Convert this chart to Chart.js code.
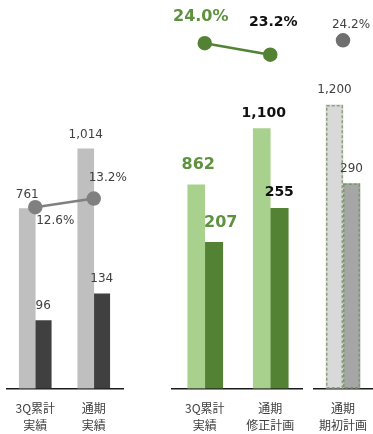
<!DOCTYPE html>
<html>
<head>
<meta charset="utf-8">
<script src="https://cdn.jsdelivr.net/npm/chart.js@4/dist/chart.umd.min.js"></script>
<style>
  html, body { margin: 0; padding: 0; background: #fff; overflow: hidden; }
  .panel { position: absolute; top: 0; }
</style>
</head>
<body>
<div class="panel" style="left:6px"><canvas id="actual" width="137" height="446"></canvas></div>
<div class="panel" style="left:160px"><canvas id="revised" width="143" height="446"></canvas></div>
<div class="panel" style="left:313px"><canvas id="initial" width="60" height="446"></canvas></div>
<script>
// 実績
var actualLabels = [['3Q累計', '実績'], ['通期', '実績']];
var actualSales = [761, 1014];
var actualProfit = [96, 134];
var actualMargin = [12.6, 13.2];

// 修正計画
var revisedLabels = [['3Q累計', '実績'], ['通期', '修正計画']];
var revisedSales = [862, 1100];
var revisedProfit = [207, 255];
var revisedMargin = [24.0, 23.2];

// 期初計画
var initialLabels = [['通期', '期初計画']];
var initialSales = [1200];
var initialProfit = [290];
var initialMargin = [24.2];

// shared axis ranges so the three panels line up
var SALES_MAX = 1644;
var PROFIT_MAX = 550;
var MARGIN_MAX = 27;

var NUM_FONT = 'DejaVu Sans';
var GREEN_TEXT = '#5e9140';
var plain = '12px ' + NUM_FONT;
var boldBig = 'bold 16px ' + NUM_FONT;
var boldSmall = 'bold 14px ' + NUM_FONT;

function fmtNum(v) { return v.toLocaleString('en-US'); }
function fmtPct(v) { return v.toFixed(1) + '%'; }
function pick(v, j, dflt) {
  if (Array.isArray(v)) return v[j];
  return v === undefined ? dflt : v;
}

// draws the value above each bar / next to each point
var valueLabels = {
  id: 'valueLabels',
  afterDatasetsDraw: function (chart) {
    var ctx = chart.ctx;
    chart.data.datasets.forEach(function (ds, i) {
      var lab = ds.valueLabel;
      if (!lab) return;
      chart.getDatasetMeta(i).data.forEach(function (el, j) {
        ctx.save();
        ctx.font = pick(lab.font, j, plain);
        ctx.fillStyle = pick(lab.color, j, '#404040');
        ctx.textAlign = 'center';
        ctx.textBaseline = 'middle';
        ctx.fillText(lab.format(ds.data[j]), el.x + pick(lab.dx, j, 0), el.y + pick(lab.dy, j, 0));
        ctx.restore();
      });
    });
  }
};

// dashed outline for the plan bars (bars have no borderDash option)
var dashedBars = {
  id: 'dashedBars',
  afterDatasetsDraw: function (chart) {
    var ctx = chart.ctx;
    chart.data.datasets.forEach(function (ds, i) {
      if (!ds.dashed) return;
      chart.getDatasetMeta(i).data.forEach(function (el) {
        var p = el.getProps(['x', 'y', 'base', 'width'], true);
        ctx.save();
        ctx.strokeStyle = ds.dashed;
        ctx.lineWidth = 1.5;
        ctx.setLineDash([3, 2]);
        ctx.strokeRect(p.x - p.width / 2 + 0.75, p.y + 0.75, p.width - 1.5, p.base - p.y - 1.5);
        ctx.restore();
      });
    });
  }
};

function makeChart(id, labels, datasets, pad) {
  return new Chart(document.getElementById(id), {
    type: 'bar',
    data: { labels: labels, datasets: datasets },
    plugins: [dashedBars, valueLabels],
    options: {
      responsive: false,
      animation: false,
      layout: { padding: { left: pad.left, right: pad.right, top: 0, bottom: 0 }, autoPadding: false },
      plugins: { legend: { display: false }, tooltip: { enabled: false } },
      scales: {
        x: {
          grid: { display: false, drawTicks: false },
          border: { display: true, color: '#1a1a1a', width: 1.5 },
          ticks: {
            padding: 12,
            maxRotation: 0,
            color: '#404040',
            font: { family: 'Noto Sans CJK JP', size: 12, lineHeight: 1.4 }
          },
          afterFit: function (scale) {
            scale.paddingLeft = 0;
            scale.paddingRight = 0;
          }
        },
        sales: { display: false, min: 0, max: SALES_MAX },
        profit: { display: false, min: 0, max: PROFIT_MAX },
        margin: { display: false, min: 0, max: MARGIN_MAX }
      }
    }
  });
}

makeChart('actual', actualLabels, [
  {
    type: 'line', data: actualMargin, yAxisID: 'margin', order: 0,
    borderColor: '#808080', backgroundColor: '#808080', borderWidth: 2.5,
    pointRadius: 6, pointHoverRadius: 6,
    valueLabel: { format: fmtPct, dx: [20, 14], dy: [14, -21] }
  },
  {
    data: actualSales, yAxisID: 'sales', order: 1, backgroundColor: '#bfbfbf', barThickness: 16,
    valueLabel: { format: fmtNum, dy: -14 }
  },
  {
    data: actualProfit, yAxisID: 'profit', order: 1, backgroundColor: '#404040', barThickness: 16,
    valueLabel: { format: fmtNum, dy: -15 }
  }
], { left: 0, right: 20 });

makeChart('revised', revisedLabels, [
  {
    type: 'line', data: revisedMargin, yAxisID: 'margin', order: 0,
    borderColor: '#548235', backgroundColor: '#548235', borderWidth: 2.5,
    pointRadius: 6, pointHoverRadius: 6,
    valueLabel: {
      format: fmtPct, font: [boldBig, boldSmall], color: [GREEN_TEXT, '#111'],
      dx: [-4, 3], dy: [-26, -32]
    }
  },
  {
    data: revisedSales, yAxisID: 'sales', order: 1, backgroundColor: '#a9d18e', barThickness: 17,
    valueLabel: {
      format: fmtNum, font: [boldBig, boldSmall], color: [GREEN_TEXT, '#111'],
      dx: [2, 2], dy: [-20, -15]
    }
  },
  {
    data: revisedProfit, yAxisID: 'profit', order: 1, backgroundColor: '#548235', barThickness: 18,
    valueLabel: {
      format: fmtNum, font: [boldBig, boldSmall], color: [GREEN_TEXT, '#111'],
      dx: [7, 0], dy: [-19, -16]
    }
  }
], { left: 12, right: 0 });

makeChart('initial', initialLabels, [
  {
    type: 'line', data: initialMargin, yAxisID: 'margin', order: 0,
    borderColor: '#6f6f6f', backgroundColor: '#6f6f6f', borderWidth: 2.5,
    pointRadius: 6, pointHoverRadius: 6,
    valueLabel: { format: fmtPct, dx: 8, dy: -15 }
  },
  {
    data: initialSales, yAxisID: 'sales', order: 1, backgroundColor: '#d9d9d9', barThickness: 17,
    dashed: '#8aa27a',
    valueLabel: { format: fmtNum, dy: -15 }
  },
  {
    data: initialProfit, yAxisID: 'profit', order: 1, backgroundColor: '#a6a6a6', barThickness: 17,
    dashed: '#7a9868',
    valueLabel: { format: fmtNum, dy: -15 }
  }
], { left: 0, right: 0 });
</script>
</body>
</html>
